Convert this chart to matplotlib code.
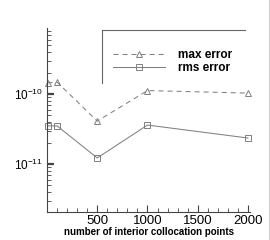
import matplotlib
matplotlib.use("Agg")
import matplotlib.pyplot as plt
from matplotlib.lines import Line2D
from matplotlib.ticker import FixedLocator, MultipleLocator, LogLocator, NullFormatter, FixedFormatter

plt.rcParams['font.family'] = ['Liberation Sans', 'DejaVu Sans']
plt.rcParams['mathtext.fontset'] = 'custom'
plt.rcParams['mathtext.rm'] = 'Liberation Sans'
plt.rcParams['lines.scale_dashes'] = False

# data
n_points = [5, 100, 500, 1000, 2000]
max_error = [1.44e-10, 1.48e-10, 4.1e-11, 1.12e-10, 1.03e-10]
rms_error = [3.5e-11, 3.5e-11, 1.22e-11, 3.6e-11, 2.35e-11]
x_ticks = [500, 1000, 1500, 2000]
x_tick_labels = ['500', '1000', '1500', '2000']
y_ticks = [1e-11, 1e-10]
y_tick_labels = [r'$10^{-11}$', r'$10^{-10}$']
series_labels = ['max error', 'rms error']
x_label = 'number of interior collocation points'

W, H = 270, 240
fig = plt.figure(figsize=(W / 100, H / 100), dpi=100)
ax = fig.add_axes([47 / W, 1 - 212 / H, (250 - 47) / W, (212 - 28) / H])

col = '#808080'
ax.plot(n_points, max_error, color=col, lw=0.75, linestyle=(0, (3.6, 2.9)),
        marker='^', markersize=5, markerfacecolor='none', markeredgecolor=col,
        markeredgewidth=0.7, clip_on=False, label=series_labels[0])
ax.plot(n_points, rms_error, color=col, lw=0.75, linestyle='-',
        marker='s', markersize=4.5, markerfacecolor='none', markeredgecolor=col,
        markeredgewidth=0.7, clip_on=False, label=series_labels[1])

ax.set_yscale('log')
ax.set_xlim(0, 2020)
ax.set_ylim(10 ** -11.686, 10 ** -9.057)

for s in ['top', 'right']:
    ax.spines[s].set_visible(False)
for s in ['left', 'bottom']:
    ax.spines[s].set_color('#444444')
    ax.spines[s].set_linewidth(0.8)

ax.xaxis.set_major_locator(FixedLocator(x_ticks))
ax.xaxis.set_major_formatter(FixedFormatter(x_tick_labels))
ax.xaxis.set_minor_locator(MultipleLocator(100))
ax.yaxis.set_major_locator(FixedLocator(y_ticks))
ax.yaxis.set_major_formatter(FixedFormatter(y_tick_labels))
ax.yaxis.set_minor_locator(LogLocator(base=10, subs=range(2, 10)))
ax.yaxis.set_minor_formatter(NullFormatter())

ax.tick_params(axis='both', which='major', direction='in', length=5, width=0.8,
               color='#444444', labelsize=9.5, pad=2)
ax.tick_params(axis='both', which='minor', direction='in', length=3, width=0.6,
               color='#444444')
ax.tick_params(axis='y', which='major', width=1.6, pad=3, labelsize=8.5)

ax.set_xlabel(x_label, fontsize=7, fontweight='bold', labelpad=0)

leg = ax.legend(loc='upper left', bbox_to_anchor=(113 / W, 1 - 49 / H),
                bbox_transform=fig.transFigure, frameon=False,
                prop={'size': 8.5, 'weight': 'bold'}, handlelength=4.4,
                handletextpad=1.1, labelspacing=0.1, borderpad=0,
                borderaxespad=0)

# legend frame (top and left edges visible)
fig.add_artist(Line2D([102 / W, 245 / W], [1 - 30 / H, 1 - 30 / H],
                      transform=fig.transFigure, color='#666666', lw=0.8))
fig.add_artist(Line2D([102 / W, 102 / W], [1 - 30 / H, 1 - 83 / H],
                      transform=fig.transFigure, color='#666666', lw=0.8))
# figure border on the right
fig.add_artist(Line2D([268.5 / W, 268.5 / W], [0, 1],
                      transform=fig.transFigure, color='#cccccc', lw=0.8))

fig.savefig('out.png', dpi=100)
